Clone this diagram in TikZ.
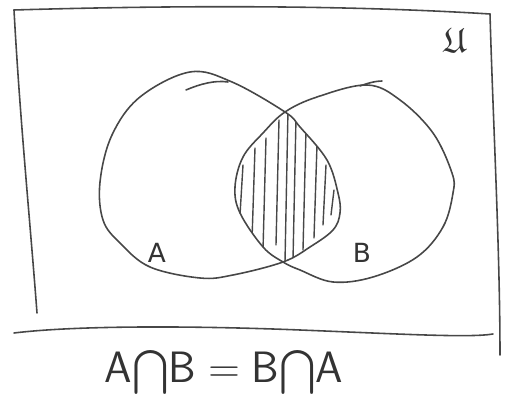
\documentclass[tikz,border=0pt]{standalone}
\usepackage{amsfonts}
\usepackage{fontspec}
\newfontfamily\hand{DejaVu Sans}
\begin{document}
\begin{tikzpicture}[x=0.02cm,y=-0.02cm,
  pen/.style={draw=black!72,line width=0.9pt,line cap=round,line join=round},
  hatch/.style={draw=black!72,line width=0.8pt,line cap=round},
  lbl/.style={text=black!80,inner sep=0pt}]
\useasboundingbox (0,0) rectangle (512,398);
% universe frame
\coordinate (tl) at (14,10);
\coordinate (tr) at (490,14);
\coordinate (bl) at (37,313);
\coordinate (br) at (500,355);
\draw[pen] (tl) .. controls (150,6) and (330,4) .. (tr);
\draw[pen] (tl) .. controls (20,120) and (30,220) .. (bl);
\draw[pen] (tr) .. controls (493,120) and (500,250) .. (br);
\coordinate (b1) at (14,333);
\coordinate (b2) at (493,334);
\draw[pen] (b1) .. controls (80,325) and (200,326) .. (300,330) .. controls (400,334) and (470,338) .. (b2);
% sets A and B
\def\pathA{plot[smooth cycle,tension=0.6] coordinates {(100,182) (112,135) (140,97) (190,72) (232,82) (285,112) (300,127) (327,160) (338,193) (340,213) (333,230) (310,247) (283,262) (233,275) (200,278) (150,267) (120,243) (103,220)}}
\def\pathB{plot[smooth cycle,tension=0.6] coordinates {(285,112) (317,97) (367,85) (400,100) (433,133) (452,173) (453,193) (443,227) (417,257) (373,277) (333,282) (300,270) (283,262) (263,247) (240,213) (235,187) (243,157) (263,133)}}
\draw[pen] \pathA;
\draw[pen] \pathB;
% small overlap strokes at the tops (hand-drawn starts)
\draw[pen] (186,90) .. controls (200,84) and (215,80) .. (228,82);
\draw[pen] (360,86) .. controls (368,83) and (376,81) .. (382,81);
% hatching of the intersection
\begin{scope}
  \clip \pathA;
  \clip \pathB;
  \foreach \x/\ya/\yb in {243/165/215, 255/148/240, 266/138/250, 279/120/245, 288/110/262, 296/118/260, 306/130/250, 317/145/238, 326/165/225, 334/190/215}
    \draw[hatch] (\x,\ya) -- (\x-3,\yb);
\end{scope}
% labels
\node[lbl,font=\hand\fontsize{15}{18}\selectfont] (la) at (157,253) {A};
\node[lbl,font=\hand\fontsize{15}{18}\selectfont] (lb) at (362,253) {B};
\node[lbl,font=\fontsize{20}{24}\selectfont] (lu) at (455,40) {$\mathfrak{U}$};
\node[lbl,font=\fontsize{25}{30}\selectfont] (eq) at (224,372) {$\mathsf{A}\!\bigcap\!\mathsf{B} = \mathsf{B}\!\bigcap\!\mathsf{A}$};
\end{tikzpicture}
\end{document}
